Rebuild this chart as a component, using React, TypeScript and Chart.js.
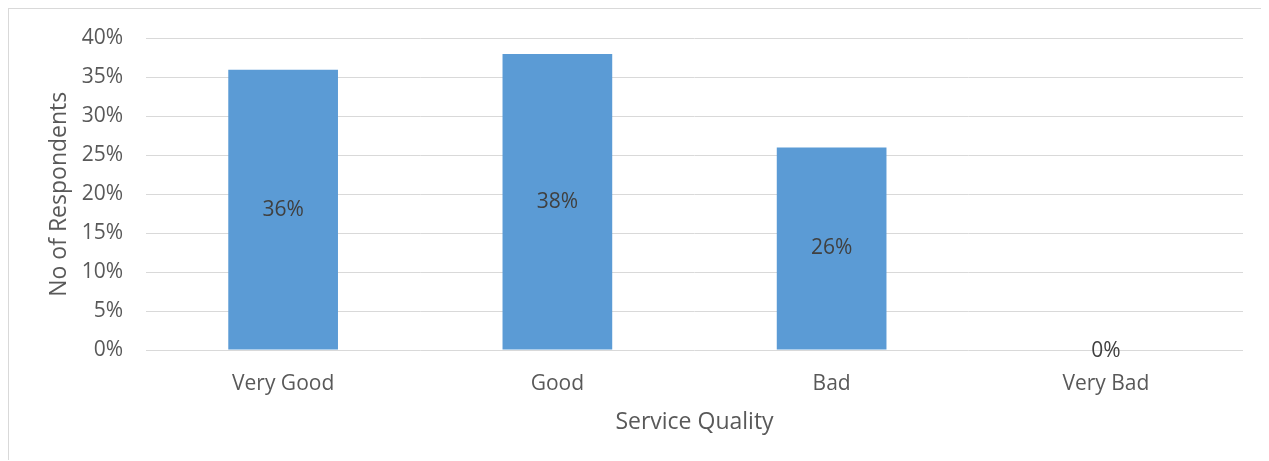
import React, { useEffect, useRef } from "react";
import { Chart, registerables } from "chart.js";

Chart.register(...registerables);

const categories = ["Very Good", "Good", "Bad", "Very Bad"];
const respondentShare = [36, 38, 26, 0];
const yTickStep = 5;
const yMax = 40;

const FONT = "'Open Sans', sans-serif";
const TEXT_COLOR = "#595959";
const LABEL_COLOR = "#404040";
const BAR_COLOR = "#5b9bd5";
const GRID_COLOR = "#d9d9d9";

// Writes each bar's value in the middle of the bar.
const barValueLabels = {
  id: "barValueLabels",
  afterDatasetsDraw(chart: any) {
    const { ctx } = chart;
    ctx.save();
    ctx.font = `21px ${FONT}`;
    ctx.fillStyle = LABEL_COLOR;
    ctx.textAlign = "center";
    ctx.textBaseline = "middle";
    chart.data.datasets.forEach((ds: any, di: number) => {
      const meta = chart.getDatasetMeta(di);
      meta.data.forEach((bar: any, i: number) => {
        const v = ds.data[i];
        const y = (bar.y + bar.base) / 2;
        ctx.fillText(`${v}%`, bar.x, v === 0 ? y + 1 : y);
      });
    });
    ctx.restore();
  },
};

export default function App() {
  const canvasRef = useRef<HTMLCanvasElement | null>(null);

  useEffect(() => {
    if (!canvasRef.current) return;
    const chart = new Chart(canvasRef.current, {
      type: "bar",
      data: {
        labels: categories,
        datasets: [
          {
            data: respondentShare,
            backgroundColor: BAR_COLOR,
            borderWidth: 0,
            barPercentage: 0.4,
            categoryPercentage: 1,
          },
        ],
      },
      options: {
        responsive: false,
        animation: false,
        layout: { padding: { left: 0, right: 24, top: 29.5, bottom: 0 } },
        plugins: {
          legend: { display: false },
          tooltip: { enabled: false },
        },
        scales: {
          x: {
            grid: { display: false, drawTicks: false },
            border: { display: false },
            ticks: {
              color: TEXT_COLOR,
              font: { family: FONT, size: 21 },
              padding: 21,
              maxRotation: 0,
            },
            title: {
              display: true,
              text: "Service Quality",
              color: TEXT_COLOR,
              font: { family: FONT, size: 23 },
              padding: { top: 0, bottom: 24 },
            },
            afterFit(scale: any) {
              scale.height = 110;
            },
          },
          y: {
            min: 0,
            max: yMax,
            grid: { color: GRID_COLOR, lineWidth: 1, drawTicks: false },
            border: { display: false },
            ticks: {
              stepSize: yTickStep,
              color: TEXT_COLOR,
              font: { family: FONT, size: 21 },
              padding: 23,
              callback: (v: any) => `${v}%`,
            },
            title: {
              display: true,
              text: "No of Respondents",
              color: TEXT_COLOR,
              font: { family: FONT, size: 23 },
              padding: { top: 37, bottom: 0 },
            },
            afterFit(scale: any) {
              scale.width = 137;
              scale.paddingTop = 0;
              scale.paddingBottom = 0;
            },
          },
        },
      },
      plugins: [barValueLabels],
    });
    return () => chart.destroy();
  }, []);

  return (
    <div
      style={{
        width: 1258,
        height: 451,
        border: "1px solid #d9d9d9",
        borderBottom: "none",
        background: "#fff",
      }}
    >
      <canvas ref={canvasRef} width={1258} height={451} style={{ display: "block" }} />
    </div>
  );
}
